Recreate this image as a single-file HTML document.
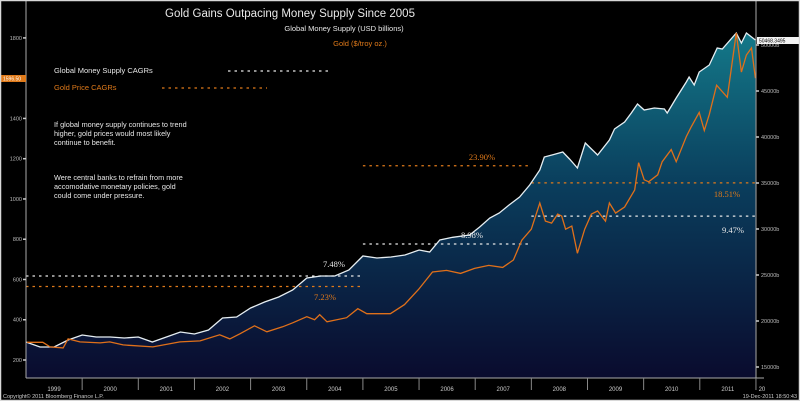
<!DOCTYPE html>
<html><head><meta charset="utf-8"><style>
html,body{margin:0;padding:0;background:#000;width:800px;height:401px;overflow:hidden;}
svg{display:block;font-family:"Liberation Sans",sans-serif;}
</style></head><body>
<svg id="chart" width="800" height="401" viewBox="0 0 800 401" xmlns="http://www.w3.org/2000/svg">
<defs>
<linearGradient id="fillGrad" x1="0" y1="30" x2="0" y2="378" gradientUnits="userSpaceOnUse">
<stop offset="0" stop-color="#147a8a"/>
<stop offset="0.45" stop-color="#0a3d5c"/>
<stop offset="1" stop-color="#0a0b2e"/>
</linearGradient>
</defs>
<rect x="0" y="0" width="800" height="401" fill="#000"/>
<g id="plot"></g>
<g id="overlay"></g>
<g>
<text x="290" y="17" fill="#e8e8e8" font-size="11.5" text-anchor="middle">Gold Gains Outpacing Money Supply Since 2005</text>
<text x="344" y="31" fill="#e8e8e8" font-size="7.5" text-anchor="middle">Global Money Supply (USD billions)</text>
<text x="360" y="46" fill="#e07a1a" font-size="7.5" text-anchor="middle">Gold ($/troy oz.)</text>
<text x="54" y="73" fill="#e8e8e8" font-size="7.5">Global Money Supply CAGRs</text>
<line x1="228" x2="332" y1="71" y2="71" stroke="#e8e8e8" stroke-width="1.3" stroke-dasharray="2.5,4"/>
<text x="54" y="90" fill="#e07a1a" font-size="7.5">Gold Price CAGRs</text>
<line x1="162" x2="267" y1="88" y2="88" stroke="#e07a1a" stroke-width="1.3" stroke-dasharray="2.5,4"/>
<g fill="#e8e8e8" font-size="7.3">
<text x="54" y="127">If global money supply continues to trend</text>
<text x="54" y="136">higher, gold prices would most likely</text>
<text x="54" y="145">continue to benefit.</text>
<text x="54" y="180">Were central banks to refrain from more</text>
<text x="54" y="189">accomodative monetary policies, gold</text>
<text x="54" y="198">could come under pressure.</text>
</g>
<rect x="1" y="75" width="25" height="7" fill="#e07a1a"/>
<text x="3" y="80.5" fill="#fff" font-size="5">1596.50</text>
<rect x="757" y="37" width="42" height="7" fill="#f2f2f2"/>
<text x="759" y="42.5" fill="#000" font-size="5">50468.3495</text>
<text x="3" y="398" fill="#ccc" font-size="5.5">Copyright© 2011 Bloomberg Finance L.P.</text>
<text x="797" y="398" fill="#ccc" font-size="5.5" text-anchor="end">19-Dec-2011 18:50:43</text>
</g>
<rect x="0.5" y="0.5" width="799" height="400" fill="none" stroke="#d8d8d8" stroke-width="1.5"/>
</svg>
<script>
// ---- data ----
const msDates = [1999.0,1999.25,1999.5,1999.75,2000.0,2000.25,2000.5,2000.75,2001.0,2001.25,2001.5,2001.75,2002.0,2002.25,2002.5,2002.75,2003.0,2003.25,2003.5,2003.75,2004.0,2004.25,2004.5,2004.75,2005.0,2005.25,2005.5,2005.75,2006.0,2006.19,2006.37,2006.6,2006.9,2007.08,2007.26,2007.43,2007.6,2007.79,2007.97,2008.15,2008.23,2008.4,2008.56,2008.68,2008.82,2008.96,2009.18,2009.39,2009.48,2009.66,2009.78,2009.89,2010.01,2010.19,2010.37,2010.42,2010.58,2010.76,2010.81,2010.9,2010.99,2011.17,2011.31,2011.4,2011.65,2011.74,2011.83,2011.99];
const moneySupply = [17717,17174,17174,17935,18478,18261,18261,18152,18261,17717,18261,18804,18587,19022,20326,20435,21413,22065,22609,23370,24674,24891,24891,25543,27065,26848,26957,27174,27717,27500,28804,29100,29348,30217,31196,31739,32600,33478,34783,36413,37826,38100,38370,37609,36630,39348,38043,39674,40870,41630,42609,43587,42935,43152,43043,42609,44239,45978,46522,45652,47065,47826,49674,49565,51304,50217,51304,50543];
const goldDates = [1999.02,1999.3,1999.43,1999.66,1999.75,1999.96,2000.32,2000.49,2000.73,2001.26,2001.74,2002.1,2002.45,2002.63,2002.81,2003.07,2003.29,2003.57,2003.75,2004.0,2004.14,2004.23,2004.36,2004.71,2004.91,2005.07,2005.49,2005.74,2005.99,2006.24,2006.49,2006.74,2006.99,2007.24,2007.49,2007.68,2007.83,2008.0,2008.15,2008.25,2008.36,2008.47,2008.54,2008.61,2008.72,2008.82,2008.95,2009.07,2009.18,2009.32,2009.39,2009.5,2009.66,2009.84,2009.91,2010.01,2010.09,2010.25,2010.33,2010.49,2010.58,2010.76,2010.85,2010.99,2011.08,2011.17,2011.3,2011.49,2011.65,2011.74,2011.83,2011.92,2011.99];
const goldPrice = [288,288,265,260,305,290,285,290,275,265,290,295,325,305,330,370,340,365,385,415,400,425,390,410,455,430,430,475,550,637,645,630,655,670,660,697,795,850,980,890,880,925,915,850,865,730,850,925,940,890,980,930,960,1045,1180,1095,1085,1120,1185,1245,1185,1310,1360,1430,1340,1420,1565,1505,1825,1630,1715,1750,1600];
const yearLabels = ["1999","2000","2001","2002","2003","2004","2005","2006","2007","2008","2009","2010","2011","20"];
const goldTicks = [200,400,600,800,1000,1200,1400,1600,1800];
const msTicks = [15000,20000,25000,30000,35000,40000,45000,50000];
const cagrStart = [1999, 1999, 2005, 2005, 2008, 2008];
const cagrEnd = [2004.95, 2004.95, 2007.95, 2007.95, 2012, 2012];
const cagrSeries = ["ms","gold","ms","gold","gold","ms"];
const cagrLevel = [24891, 565, 28370, 1165, 1080, 31400];
const cagrLabels = ["7.48%","7.23%","8.98%","23.90%","18.51%","9.47%"];

// ---- axes ----
const X0 = 26, X1 = 756, YB = 378;
const xScale = t => X0 + (t - 1999) * 56.15;
const yGold = v => 360 - (v - 200) * 0.2013;
const yMS = v => 367 - (v - 15000) * 0.0092;
const NS = "http://www.w3.org/2000/svg";
const plot = document.getElementById('plot');
const ov = document.getElementById('overlay');
function mk(tag, attrs, parent, text){
  const e = document.createElementNS(NS, tag);
  for (const k in attrs) e.setAttribute(k, attrs[k]);
  if (text !== undefined) e.textContent = text;
  parent.appendChild(e);
  return e;
}

let msPts = msDates.map((t,i)=>xScale(t).toFixed(1)+','+yMS(moneySupply[i]).toFixed(1));
const area = mk('polygon', {points: xScale(msDates[0]).toFixed(1)+','+YB+' '+msPts.join(' ')+' '+xScale(msDates[msDates.length-1]).toFixed(1)+','+YB, fill:'url(#fillGrad)'}, plot);



cagrLevel.forEach((lv,i)=>{
  const y = cagrSeries[i]==='gold' ? yGold(lv) : yMS(lv);
  const col = cagrSeries[i]==='gold' ? '#e07a1a' : '#e8e8e8';
  const x1 = xScale(cagrStart[i]), x2 = Math.min(xScale(cagrEnd[i]), X1);
  const l = mk('line', {x1:x1, x2:x2, y1:y, y2:y, stroke:col, 'stroke-width':1.3, 'stroke-dasharray':'2.5,4'}, plot);
  
  
});

const msLine = mk('polyline', {points: msPts.join(' '), fill:'none', stroke:'#e6eef2', 'stroke-width':1.3}, plot);


const gPts = goldDates.map((t,i)=>xScale(t).toFixed(1)+','+yGold(goldPrice[i]).toFixed(1));
const gLine = mk('polyline', {points: gPts.join(' '), fill:'none', stroke:'#e0701a', 'stroke-width':1.3}, plot);



const labPos = [[334,267,'#e8e8e8'],[325,300,'#e07a1a'],[472,238,'#e8e8e8'],[482,160,'#e07a1a'],[727,197,'#e07a1a'],[733,233,'#e8e8e8']];
cagrLabels.forEach((s,i)=>{
  const t = mk('text', {x:labPos[i][0], y:labPos[i][1], fill:labPos[i][2], 'font-size':8.5, 'font-family':'Liberation Serif, serif','text-anchor':'middle'}, ov, s);
  
  
});

mk('line',{x1:X0,x2:X0,y1:0,y2:YB,stroke:'#aaa','stroke-width':1,},ov);
mk('line',{x1:X1,x2:X1,y1:0,y2:YB,stroke:'#aaa','stroke-width':1,},ov);
mk('line',{x1:X0,x2:X1+8,y1:YB,y2:YB,stroke:'#aaa','stroke-width':1,},ov);

goldTicks.forEach(v=>{
  const y = yGold(v);
  mk('line',{x1:X0-3,x2:X0,y1:y,y2:y,stroke:'#ccc','stroke-width':1.5},ov);
  const t = mk('text',{x:X0-4,y:y+2,fill:'#bbb','font-size':5.5,'text-anchor':'end'},ov,String(v));
  
  
});
msTicks.forEach(v=>{
  const y = yMS(v);
  mk('line',{x1:X1,x2:X1+3,y1:y,y2:y,stroke:'#ccc','stroke-width':1.5},ov);
  const t = mk('text',{x:X1+5,y:y+2,fill:'#bbb','font-size':5.5},ov,v+'b');
  
  
});
yearLabels.forEach((s,i)=>{
  const xb = xScale(1999+i);
  if (i>0) mk('line',{x1:xb,x2:xb,y1:YB,y2:YB+12,stroke:'#888','stroke-width':1},ov);
  const t = mk('text',{x: i===13 ? xb+6 : xb+28, y:391, fill:'#ccc','font-size':6,'text-anchor':'middle'},ov,s);
  
  
});
</script>
</body></html>
